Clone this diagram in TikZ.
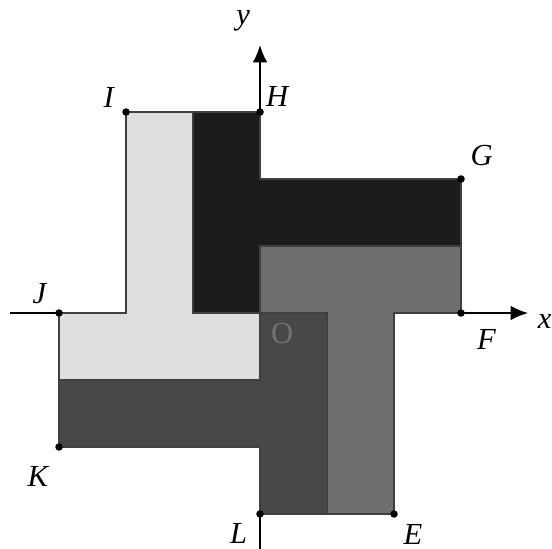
\documentclass[tikz,border=0pt]{standalone}
\usepackage{fontspec}
\setmainfont{Liberation Serif}
\usetikzlibrary{arrows.meta,positioning}

\definecolor{tblack}{HTML}{1C1C1C}
\definecolor{tdark}{HTML}{484848}
\definecolor{tmid}{HTML}{6E6E6E}
\definecolor{tlight}{HTML}{DEDEDE}

\tikzset{
	piece/.style={draw=black!75, line width=0.5pt},
	lbl/.style={font=\fontsize{13}{13}\selectfont\itshape, inner sep=1pt},
	pt/.style={circle, fill=black, inner sep=0pt, minimum size=3.2pt},
	axis/.style={line width=0.8pt, -{Latex[length=2.6mm,width=2.2mm]}}
}

\begin{document}
\begin{tikzpicture}
	\useasboundingbox (-3.881,-3.522) rectangle (4.358,4.672);
	
	% points
	\coordinate (O) at (0,0);
	\coordinate (H) at (0,3);
	\coordinate (I) at (-2,3);
	\coordinate (G) at (3,2);
	\coordinate (F) at (3,0);
	\coordinate (J) at (-3,0);
	\coordinate (K) at (-3,-2);
	\coordinate (L) at (0,-3);
	\coordinate (E) at (2,-3);
	
	% axes
	\coordinate (xs) at (-3.73,0);
	\coordinate (xe) at (4.0,0);
	\coordinate (ys) at (0,-3.6);
	\coordinate (ye) at (0,4.0);
	\draw[axis] (xs) -- (xe);
	\draw[axis] (ys) -- (ye);
	
	% the four T pieces
	\draw[piece, fill=tlight] (I) -- (-1,3) -- (-1,0) -- (O) -- (0,-1) -- (-3,-1) -- (J) -- (-2,0) -- cycle;
	\draw[piece, fill=tblack] (-1,3) -- (H) -- (0,2) -- (G) -- (3,1) -- (0,1) -- (O) -- (-1,0) -- cycle;
	\draw[piece, fill=tmid] (0,1) -- (3,1) -- (F) -- (2,0) -- (E) -- (1,-3) -- (1,0) -- (O) -- cycle;
	\draw[piece, fill=tdark] (O) -- (1,0) -- (1,-3) -- (L) -- (0,-2) -- (K) -- (-3,-1) -- (0,-1) -- cycle;
	
	% marked points
	\foreach \p in {H,I,G,F,J,K,L,E}
		\node[pt] (d\p) at (\p) {};
	
	% labels
	\node[lbl, above right=0.04 and 0.05 of H] (lH) {H};
	\node[lbl, above left=0.02 and 0.14 of I] (lI) {I};
	\node[lbl, above right=0.16 and 0.1 of G] (lG) {G};
	\node[lbl, below right=0.2 and 0.2 of F] (lF) {F};
	\node[lbl, above left=0.1 and 0.15 of J] (lJ) {J};
	\node[lbl, below left=0.25 and 0.12 of K] (lK) {K};
	\node[lbl, below left=0.1 and 0.15 of L] (lL) {L};
	\node[lbl, below right=0.12 and 0.1 of E] (lE) {E};
	\node[lbl, font=\fontsize{13}{13}\selectfont, text=black!55] (lO) at (0.33,-0.30) {O};
	\node[lbl] (lx) at (4.25,-0.12) {x};
	\node[lbl] (ly) at (-0.25,4.36) {y};
\end{tikzpicture}
\end{document}
